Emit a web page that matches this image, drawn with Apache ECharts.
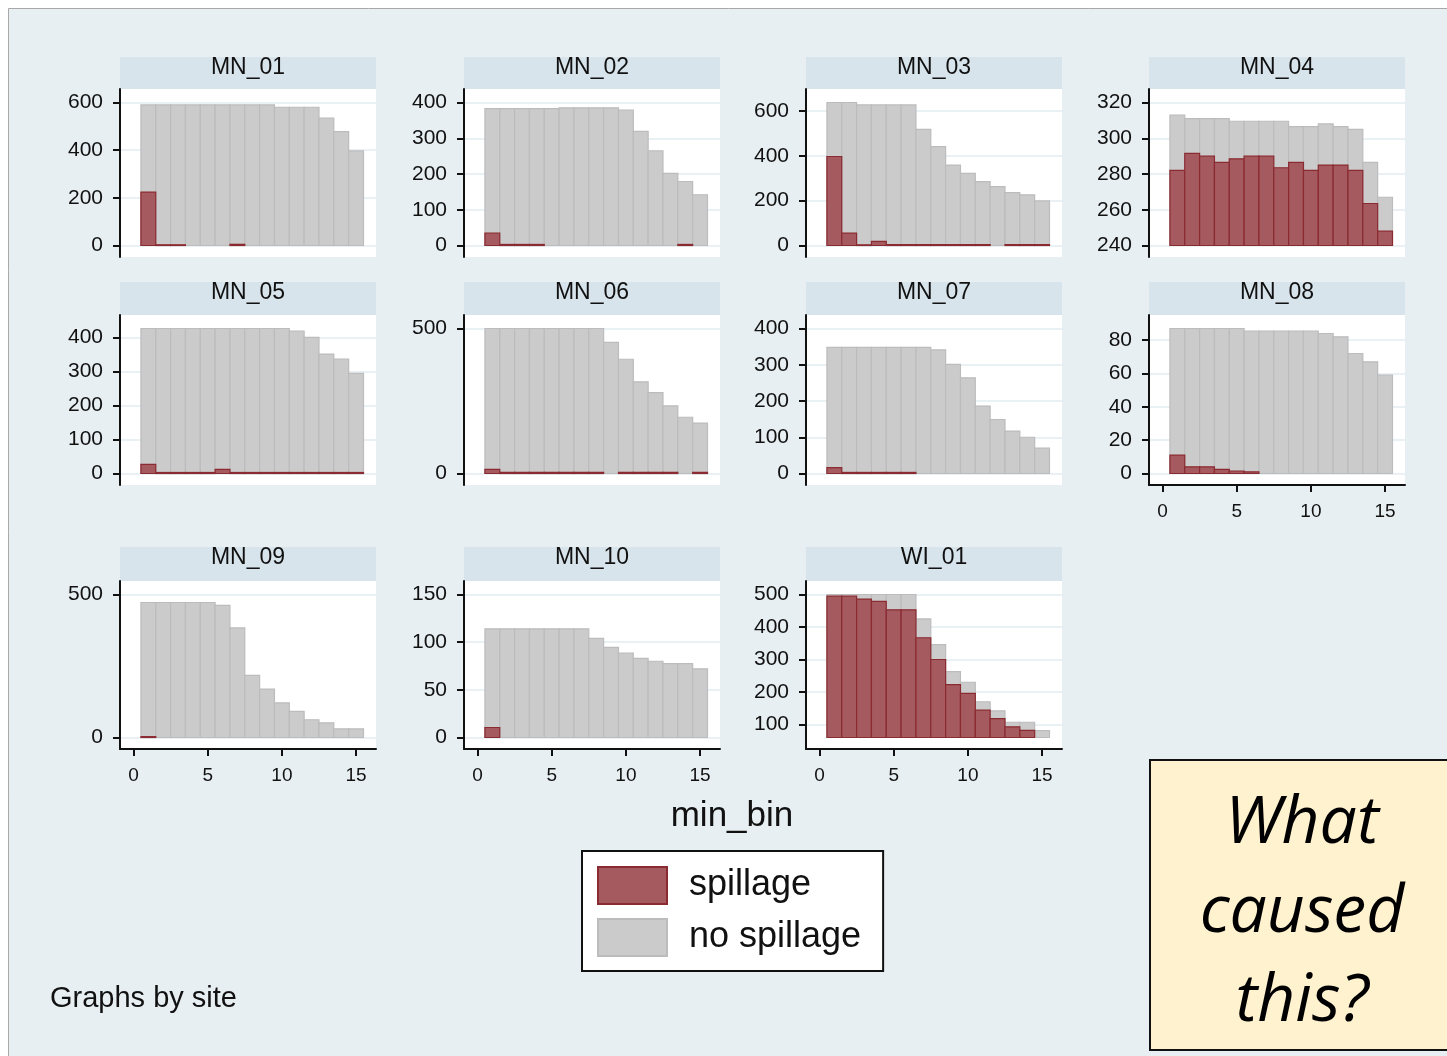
<!DOCTYPE html>
<html>
<head>
<meta charset="utf-8">
<script src="https://cdn.jsdelivr.net/npm/echarts@6/dist/echarts.min.js"></script>
<style>
  html, body { margin: 0; padding: 0; background: #fff; }
  #chart { width: 1447px; height: 1056px; }
</style>
</head>
<body>
<div id="chart"></div>
<script>
// x categories (min_bin) and x tick labels
var minBin = [1, 2, 3, 4, 5, 6, 7, 8, 9, 10, 11, 12, 13, 14, 15];
var xTicks = [0, 5, 10, 15];

var sites = ['MN_01', 'MN_02', 'MN_03', 'MN_04', 'MN_05', 'MN_06', 'MN_07', 'MN_08', 'MN_09', 'MN_10', 'WI_01'];

// gray bars (all / no spillage) and red bars (spillage)
var allMN01 = [590, 590, 590, 590, 590, 590, 590, 590, 590, 580, 580, 580, 535, 478, 397];
var spillMN01 = [224, 3, 3, 0, 0, 0, 5, 0, 0, 0, 0, 0, 0, 0, 0];
var allMN02 = [383, 383, 383, 383, 383, 385, 385, 385, 385, 379, 319, 265, 202, 179, 142];
var spillMN02 = [35, 3, 3, 3, 0, 0, 0, 0, 0, 0, 0, 0, 0, 3, 0];
var allMN03 = [638, 638, 627, 627, 627, 627, 518, 441, 359, 322, 285, 263, 236, 226, 199];
var spillMN03 = [397, 55, 3, 18, 4, 4, 4, 4, 4, 4, 4, 0, 4, 4, 4];
var allMN04 = [313, 311, 311, 311, 309.5, 309.5, 309.5, 309.5, 306.5, 306.5, 308, 306.5, 305, 286.5, 267];
var spillMN04 = [282, 291.5, 290, 286.5, 288.5, 290, 290, 283.5, 286.5, 282, 285, 285, 282, 263.5, 248];
var allMN05 = [426, 426, 426, 426, 426, 426, 426, 426, 426, 426, 418, 400, 351, 336, 294];
var spillMN05 = [27, 3, 3, 3, 3, 12, 3, 3, 3, 3, 3, 3, 3, 3, 3];
var allMN06 = [500, 500, 500, 500, 500, 500, 500, 500, 452, 394, 316, 279, 233, 194, 174];
var spillMN06 = [14, 4, 4, 4, 4, 4, 4, 4, 0, 4, 4, 4, 4, 0, 4];
var allMN07 = [348, 348, 348, 348, 348, 348, 348, 341, 301, 264, 186, 149, 117, 100, 70];
var spillMN07 = [16, 3, 3, 3, 3, 3, 0, 0, 0, 0, 0, 0, 0, 0, 0];
var allMN08 = [87, 87, 87, 87, 87, 85.5, 85.5, 85.5, 85.5, 85.5, 84, 82, 72, 67, 59];
var spillMN08 = [11, 4, 4, 2.5, 1.5, 1, 0, 0, 0, 0, 0, 0, 0, 0, 0];
var allMN09 = [472, 472, 472, 472, 472, 462, 383, 217, 169, 121, 91, 62, 51, 30, 30];
var spillMN09 = [3, 0, 0, 0, 0, 0, 0, 0, 0, 0, 0, 0, 0, 0, 0];
var allMN10 = [114, 114, 114, 114, 114, 114, 114, 104, 94.5, 88.5, 83, 80, 77.5, 77.5, 72];
var spillMN10 = [10.5, 0, 0, 0, 0, 0, 0, 0, 0, 0, 0, 0, 0, 0, 0];
var allWI01 = [500, 500, 500, 500, 500, 500, 425, 346, 263, 230, 170, 142, 107, 107, 81];
var spillWI01 = [495, 495, 486, 479, 453, 453, 367, 300, 223, 196, 144, 118, 93, 82, 60];

// y tick labels per panel
var ticksMN01 = [0, 200, 400, 600];
var ticksMN02 = [0, 100, 200, 300, 400];
var ticksMN03 = [0, 200, 400, 600];
var ticksMN04 = [240, 260, 280, 300, 320];
var ticksMN05 = [0, 100, 200, 300, 400];
var ticksMN06 = [0, 500];
var ticksMN07 = [0, 100, 200, 300, 400];
var ticksMN08 = [0, 20, 40, 60, 80];
var ticksMN09 = [0, 500];
var ticksMN10 = [0, 50, 100, 150];
var ticksWI01 = [100, 200, 300, 400, 500];

// y extent (lowest, highest) of each panel
var rangeMN01 = [0, 600];
var rangeMN02 = [0, 400];
var rangeMN03 = [0, 638];
var rangeMN04 = [240, 320];
var rangeMN05 = [0, 426];
var rangeMN06 = [0, 500];
var rangeMN07 = [0, 400];
var rangeMN08 = [0, 87];
var rangeMN09 = [0, 500];
var rangeMN10 = [0, 150];
var rangeWI01 = [60, 500];

var allList = [allMN01, allMN02, allMN03, allMN04, allMN05, allMN06, allMN07, allMN08, allMN09, allMN10, allWI01];
var spillList = [spillMN01, spillMN02, spillMN03, spillMN04, spillMN05, spillMN06, spillMN07, spillMN08, spillMN09, spillMN10, spillWI01];
var tickList = [ticksMN01, ticksMN02, ticksMN03, ticksMN04, ticksMN05, ticksMN06, ticksMN07, ticksMN08, ticksMN09, ticksMN10, ticksWI01];
var rangeList = [rangeMN01, rangeMN02, rangeMN03, rangeMN04, rangeMN05, rangeMN06, rangeMN07, rangeMN08, rangeMN09, rangeMN10, rangeWI01];

// 布局
var colX = [120, 464, 806, 1149];
var plotW = 256;
var stripTop = [57, 282, 547];
var plotTop = [89, 315, 581];
var plotH = [168, 170, 168];
var padL = 13.5, padR = 12.5, padT = 13.5, padB = 11.5;

var BG = '#e8eff2';
var STRIP = '#d8e4eb';
var GRAY = '#cbcbcb', GRAY_EDGE = '#bcbcbc';
var RED = '#a55a5f', RED_EDGE = '#8a2a31';
var INK = '#111';
var FONT = '"Liberation Sans", Arial, sans-serif';

function pairs(values) {
    return minBin.map(function (b, i) { return [b, values[i]]; });
}

function barRenderer(base) {
    return function (params, api) {
        var x = api.value(0), y = api.value(1);
        if (!(y > base)) return null;
        var a = api.coord([x - 0.5, y]);
        var b = api.coord([x + 0.5, base]);
        return {
            type: 'rect',
            shape: { x: a[0], y: a[1], width: b[0] - a[0], height: b[1] - a[1] },
            style: api.style()
        };
    };
}

var grids = [], xAxes = [], yAxes = [], series = [], graphics = [];

graphics.push({
    type: 'rect', z: -100,
    shape: { x: 8.5, y: 8.5, width: 1460, height: 1070 },
    style: { fill: BG, stroke: '#a8a8a8', lineWidth: 1 }
});

sites.forEach(function (site, i) {
    var row = Math.floor(i / 4), col = i % 4;
    var lo = rangeList[i][0], hi = rangeList[i][1];
    var h = plotH[row];
    var innerH = h - padT - padB;
    var innerW = plotW - padL - padR;
    var xSpan = 15.5;
    var showX = i >= 7;

    grids.push({
        left: colX[col], top: plotTop[row], width: plotW, height: h,
        show: true, backgroundColor: '#fff', borderWidth: 0
    });
    xAxes.push({
        type: 'value', gridIndex: i,
        min: -padL / innerW * xSpan, max: xSpan + padR / innerW * xSpan,
        show: showX,
        axisLine: { show: true, onZero: false, lineStyle: { color: INK, width: 2 } },
        axisTick: { show: true, length: 7, lineStyle: { color: INK, width: 2 }, customValues: xTicks },
        axisLabel: { customValues: xTicks, color: INK, fontSize: 19, fontFamily: FONT, margin: 17 },
        splitLine: { show: false }
    });
    yAxes.push({
        type: 'value', gridIndex: i,
        min: lo - padB / innerH * (hi - lo), max: hi + padT / innerH * (hi - lo),
        axisLine: { show: true, onZero: false, lineStyle: { color: INK, width: 2 } },
        axisTick: { show: true, length: 7, lineStyle: { color: INK, width: 2 }, customValues: tickList[i] },
        axisLabel: { customValues: tickList[i], color: INK, fontSize: 21, fontFamily: FONT, margin: 17 },
        splitLine: { show: true, lineStyle: { color: '#e3ecf0', width: 1.5 } }
    });
    series.push({
        name: 'no spillage', type: 'custom', xAxisIndex: i, yAxisIndex: i,
        renderItem: barRenderer(lo), encode: { x: 0, y: 1 },
        itemStyle: { color: GRAY, borderColor: GRAY_EDGE, borderWidth: 1.2 },
        data: pairs(allList[i]), z: 2, silent: true
    });
    series.push({
        name: 'spillage', type: 'custom', xAxisIndex: i, yAxisIndex: i,
        renderItem: barRenderer(lo), encode: { x: 0, y: 1 },
        itemStyle: { color: RED, borderColor: RED_EDGE, borderWidth: 1.2 },
        data: pairs(spillList[i]), z: 3, silent: true
    });

    // 标题条
    graphics.push({
        type: 'rect',
        shape: { x: colX[col], y: stripTop[row], width: plotW, height: plotTop[row] - stripTop[row] },
        style: { fill: STRIP }
    });
    graphics.push({
        type: 'text', x: colX[col] + plotW / 2, y: stripTop[row] + 11,
        style: { text: site, fill: INK, font: '23px ' + FONT, textAlign: 'center', textVerticalAlign: 'middle' }
    });
});

graphics.push({
    type: 'text', x: 732, y: 816,
    style: { text: 'min_bin', fill: INK, font: '35px ' + FONT, textAlign: 'center', textVerticalAlign: 'middle' }
});
graphics.push({
    type: 'text', x: 50, y: 999,
    style: { text: 'Graphs by site', fill: INK, font: '29px ' + FONT, textAlign: 'left', textVerticalAlign: 'middle' }
});
graphics.push({
    type: 'rect',
    shape: { x: 1150, y: 760, width: 300, height: 290 },
    style: { fill: '#fff2cf', stroke: '#111', lineWidth: 2 }
});
graphics.push({
    type: 'text', x: 1302, y: 913,
    style: {
        text: 'What\ncaused\nthis?', fill: '#000',
        font: 'italic 66px "Open Sans", sans-serif', lineHeight: 89,
        textAlign: 'center', textVerticalAlign: 'middle'
    }
});

var myChart = echarts.init(document.getElementById('chart'));
var option = {
    backgroundColor: '#fff',
    animation: false,
    grid: grids,
    xAxis: xAxes,
    yAxis: yAxes,
    series: series,
    graphic: graphics,
    legend: {
        data: ['spillage', 'no spillage'],
        orient: 'vertical',
        left: 582, top: 851,
        icon: 'rect',
        itemWidth: 69, itemHeight: 37, itemGap: 13,
        padding: [15, 22, 14, 15],
        backgroundColor: '#fff',
        borderColor: '#111', borderWidth: 2, borderRadius: 0,
        selectedMode: false,
        textStyle: { fontSize: 36, color: INK, fontFamily: FONT, padding: [7, 0, 0, 17] }
    }
};
myChart.setOption(option);
</script>
</body>
</html>
